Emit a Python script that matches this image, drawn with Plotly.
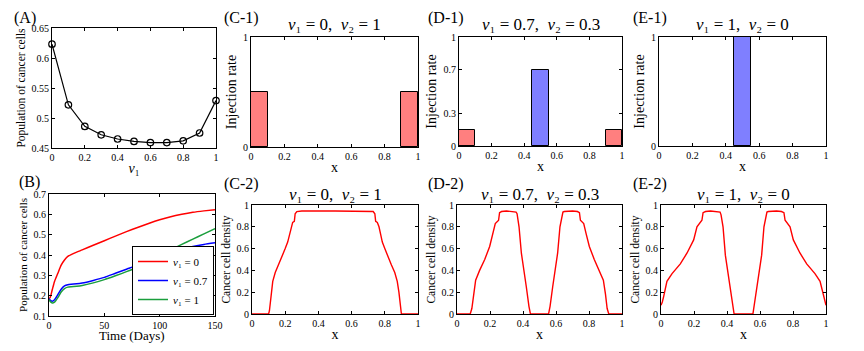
import plotly.graph_objects as go

# The page body has an 8px default margin, so the figure is drawn 8px in from the window edge.
OFF = 8
W, H = 864 - 2 * OFF, 351 - 2 * OFF
SERIF = "Liberation Serif"

# ---------------- Data ----------------
# Panel A
v1_vals = [0, 0.1, 0.2, 0.3, 0.4, 0.5, 0.6, 0.7, 0.8, 0.9, 1.0]
pop_final = [0.623, 0.522, 0.486, 0.472, 0.465, 0.461, 0.459, 0.459, 0.462, 0.475, 0.529]

# Panel B
t_days = [0, 1, 3, 5, 8, 11, 14, 17, 20, 25, 30, 40, 50, 60, 70, 80, 90, 100, 110, 120, 130, 140, 150]
pop_v0 = [0.185, 0.19, 0.23, 0.27, 0.31, 0.35, 0.375, 0.393, 0.402, 0.414, 0.425, 0.448, 0.47, 0.493,
          0.515, 0.535, 0.555, 0.573, 0.588, 0.600, 0.610, 0.617, 0.623]
pop_v07 = [0.185, 0.178, 0.172, 0.18, 0.205, 0.232, 0.248, 0.254, 0.256, 0.258, 0.262, 0.275, 0.29,
           0.31, 0.33, 0.35, 0.373, 0.397, 0.415, 0.43, 0.442, 0.452, 0.46]
pop_v1 = [0.18, 0.172, 0.164, 0.168, 0.19, 0.218, 0.235, 0.242, 0.244, 0.246, 0.25, 0.263, 0.279,
          0.298, 0.318, 0.34, 0.367, 0.397, 0.425, 0.452, 0.478, 0.504, 0.53]
legend_names = ["<i>v</i>\u2081 = 0", "<i>v</i>\u2081 = 0.7", "<i>v</i>\u2081 = 1"]

# Panels C/D/E row 1: injection profiles
bar_centers_red = [0.05, 0.95]
bar_center_blue = [0.5]
bar_width = 0.1
v1_cases = [0, 0.7, 1]
v2_cases = [1, 0.3, 0]
red_heights = [[0.5, 0.5], [0.15, 0.15], [0, 0]]
blue_heights = [[0], [0.7], [1]]
inj_yticks = [[0, 1], [0, 0.3, 0.7, 1], [0, 1]]

# Panels C/D/E row 2: cancer cell density
xC = [0, 0.10, 0.105, 0.115, 0.125, 0.14, 0.16, 0.18, 0.20, 0.215, 0.225, 0.235, 0.245, 0.255, 0.26,
      0.27, 0.30, 0.5, 0.70, 0.73, 0.74, 0.745, 0.755, 0.765, 0.775, 0.785, 0.80, 0.82, 0.84, 0.86,
      0.875, 0.885, 0.895, 0.90, 1.0]
yC = [0, 0, 0.03, 0.2, 0.3, 0.38, 0.45, 0.52, 0.6, 0.66, 0.73, 0.8, 0.84, 0.85, 0.92, 0.94, 0.945,
      0.945, 0.945, 0.94, 0.92, 0.85, 0.84, 0.80, 0.73, 0.66, 0.6, 0.52, 0.45, 0.38, 0.3, 0.2, 0.03, 0, 0]

xD = [0, 0.08, 0.09, 0.10, 0.113, 0.137, 0.168, 0.198, 0.218, 0.232, 0.246, 0.252, 0.258, 0.27, 0.30,
      0.35, 0.358, 0.364, 0.376, 0.39, 0.404, 0.42, 0.436, 0.445, 0.555, 0.564, 0.58, 0.596, 0.61,
      0.624, 0.636, 0.642, 0.65, 0.70, 0.73, 0.742, 0.748, 0.754, 0.768, 0.782, 0.802, 0.832, 0.863,
      0.887, 0.90, 0.91, 0.92, 1.0]
yD = [0, 0, 0.05, 0.18, 0.31, 0.40, 0.50, 0.62, 0.74, 0.83, 0.85, 0.86, 0.93, 0.94, 0.945,
      0.94, 0.935, 0.92, 0.80, 0.56, 0.43, 0.25, 0.07, 0, 0, 0.07, 0.25, 0.43, 0.56,
      0.80, 0.92, 0.935, 0.94, 0.945, 0.94, 0.93, 0.86, 0.85, 0.83, 0.74, 0.62, 0.50, 0.40,
      0.31, 0.18, 0.05, 0, 0]

xE = [0, 0.008, 0.016, 0.036, 0.067, 0.117, 0.158, 0.198, 0.218, 0.242, 0.248, 0.255, 0.27, 0.30,
      0.35, 0.358, 0.364, 0.376, 0.39, 0.41, 0.43, 0.443, 0.557, 0.57, 0.59, 0.61, 0.624, 0.636,
      0.642, 0.65, 0.70, 0.73, 0.745, 0.752, 0.758, 0.782, 0.802, 0.842, 0.883, 0.933, 0.964, 0.984,
      0.992, 1.0]
yE = [0.08, 0.11, 0.16, 0.30, 0.37, 0.46, 0.56, 0.68, 0.80, 0.85, 0.86, 0.93, 0.94, 0.945,
      0.94, 0.935, 0.91, 0.80, 0.54, 0.34, 0.13, 0, 0, 0.13, 0.34, 0.54, 0.80, 0.91,
      0.935, 0.94, 0.945, 0.94, 0.93, 0.86, 0.85, 0.80, 0.68, 0.56, 0.46, 0.37, 0.30, 0.16,
      0.11, 0.08]
density_x = [xC, xD, xE]
density_y = [yC, yD, yE]

panel_top = ["(C-1)", "(D-1)", "(E-1)"]
panel_bot = ["(C-2)", "(D-2)", "(E-2)"]

# ---------------- Layout helpers (window pixel -> paper fraction) ----------------
def px(x):
    return (x - OFF) / W

def py(y):
    return 1 - (y - OFF) / H

def dom(x0, x1, y0, y1):
    return [px(x0), px(x1)], [py(y1), py(y0)]

def fmt(v):
    return "%g" % v

axis_common = dict(showline=True, linecolor="black", linewidth=1, mirror="ticks",
                   ticks="inside", ticklen=3, tickcolor="black", showgrid=False, zeroline=False,
                   automargin=False,
                   tickfont=dict(family=SERIF, size=10, color="black"))

fig = go.Figure()
layout = {}
annotations = []

def add_axes(i, xd, yd, xr, yr, xt, yt, xtitle, ytitle, ytitle_size=13, xstand=1, ystand=3):
    xd_, yd_ = dom(*xd, *yd)
    xk = "xaxis" if i == 1 else f"xaxis{i}"
    yk = "yaxis" if i == 1 else f"yaxis{i}"
    layout[xk] = dict(axis_common, domain=xd_, range=xr, anchor=f"y{'' if i == 1 else i}",
                      tickvals=xt, ticktext=[fmt(v) for v in xt],
                      title=dict(text=xtitle, font=dict(family=SERIF, size=14, color="black"), standoff=xstand))
    layout[yk] = dict(axis_common, domain=yd_, range=yr, anchor=f"x{'' if i == 1 else i}",
                      tickvals=yt, ticktext=[fmt(v) for v in yt],
                      title=dict(text=ytitle, font=dict(family=SERIF, size=ytitle_size, color="black"), standoff=ystand))
    return ("x" if i == 1 else f"x{i}"), ("y" if i == 1 else f"y{i}")

# Panel A
xa, ya = add_axes(1, (52, 216), (28, 148), [0, 1], [0.45, 0.65],
                  [0, 0.2, 0.4, 0.6, 0.8, 1], [0.45, 0.5, 0.55, 0.6, 0.65],
                  "<i>v</i>\u2081", "Population of cancer cells", ytitle_size=11.5)
fig.add_trace(go.Scatter(x=v1_vals, y=pop_final, mode="lines+markers", xaxis=xa, yaxis=ya,
                         line=dict(color="black", width=1.2),
                         marker=dict(symbol="circle-open", size=6.5, color="black", line=dict(width=1.2)),
                         cliponaxis=False, showlegend=False))

# Panel B (x title placed as an annotation below the tick labels)
xb, yb = add_axes(2, (49, 215), (194, 316), [0, 150], [0.1, 0.7],
                  [0, 50, 100, 150], [0.1, 0.2, 0.3, 0.4, 0.5, 0.6, 0.7],
                  "", "Population of cancer cells", ytitle_size=11)
annotations.append(dict(x=px(132), y=py(335), xref="paper", yref="paper", showarrow=False,
                        text="Time (Days)", font=dict(family=SERIF, size=13, color="black"),
                        xanchor="center", yanchor="middle", borderpad=0))
for yv, col, nm in zip([pop_v0, pop_v07, pop_v1], ["#ff0000", "#0000ff", "#1a9e3c"], legend_names):
    fig.add_trace(go.Scatter(x=t_days, y=yv, mode="lines", xaxis=xb, yaxis=yb, name=nm,
                             line=dict(color=col, width=1.5, shape="spline", smoothing=0.6)))

# Row 1 injection panels
top_dom = [(251, 418), (459, 622), (659, 826)]
bot_dom = [(252, 418), (457, 622), (661, 826)]
for k in range(3):
    i = 3 + k
    xk, yk = add_axes(i, top_dom[k], (37, 147 if k == 0 else 146), [0, 1], [0, 1],
                      [0, 0.2, 0.4, 0.6, 0.8, 1], inj_yticks[k], "x", "Injection rate", ytitle_size=14)
    rx = [c for c, h in zip(bar_centers_red, red_heights[k]) if h > 0]
    rh = [h for h in red_heights[k] if h > 0]
    if rx:
        fig.add_trace(go.Bar(x=rx, y=rh, width=bar_width, xaxis=xk, yaxis=yk, showlegend=False,
                             marker=dict(color="#ff7f7f", line=dict(color="black", width=1))))
    bx = [c for c, h in zip(bar_center_blue, blue_heights[k]) if h > 0]
    bh = [h for h in blue_heights[k] if h > 0]
    if bx:
        fig.add_trace(go.Bar(x=bx, y=bh, width=bar_width, xaxis=xk, yaxis=yk, showlegend=False,
                             marker=dict(color="#7f7fff", line=dict(color="black", width=1))))
    cx = (top_dom[k][0] + top_dom[k][1]) / 2
    annotations.append(dict(x=px(cx), y=py(25), xref="paper", yref="paper", showarrow=False,
                            text=f"<i>v</i>\u2081 = {fmt(v1_cases[k])},  <i>v</i>\u2082 = {fmt(v2_cases[k])}",
                            font=dict(family=SERIF, size=17, color="black"), xanchor="center", yanchor="middle"))

# Row 2 density panels
for k in range(3):
    i = 6 + k
    xk, yk = add_axes(i, bot_dom[k], (205, 314), [0, 1], [0, 1],
                      [0, 0.2, 0.4, 0.6, 0.8, 1], [0, 0.2, 0.4, 0.6, 0.8, 1],
                      "x", "Cancer cell density", ytitle_size=11.5)
    fig.add_trace(go.Scatter(x=density_x[k], y=density_y[k], mode="lines", xaxis=xk, yaxis=yk,
                             showlegend=False, line=dict(color="#ff0000", width=1.4)))
    cx = (bot_dom[k][0] + bot_dom[k][1]) / 2
    annotations.append(dict(x=px(cx), y=py(194), xref="paper", yref="paper", showarrow=False,
                            text=f"<i>v</i>\u2081 = {fmt(v1_cases[k])},  <i>v</i>\u2082 = {fmt(v2_cases[k])}",
                            font=dict(family=SERIF, size=17, color="black"), xanchor="center", yanchor="middle"))

# Panel labels
labels = [("(A)", 13, 18), ("(B)", 18, 182),
          (panel_top[0], 223, 18), (panel_top[1], 427, 18), (panel_top[2], 632, 18),
          (panel_bot[0], 223, 184), (panel_bot[1], 427, 184), (panel_bot[2], 632, 184)]
for txt, lx, ly in labels:
    annotations.append(dict(x=px(lx), y=py(ly), xref="paper", yref="paper", showarrow=False,
                            text=txt, font=dict(family=SERIF, size=16, color="black"),
                            xanchor="left", yanchor="middle", borderpad=0))

fig.update_layout(**layout)
fig.update_layout(
    width=W, height=H, margin=dict(l=0, r=0, t=0, b=0),
    paper_bgcolor="white", plot_bgcolor="white", bargap=0,
    annotations=annotations,
    legend=dict(x=px(214), y=py(315), xanchor="right", yanchor="bottom",
                bgcolor="white", bordercolor="black", borderwidth=1,
                font=dict(family=SERIF, size=11, color="black"),
                tracegroupgap=0, itemwidth=30),
)
fig.write_html("out.html")
